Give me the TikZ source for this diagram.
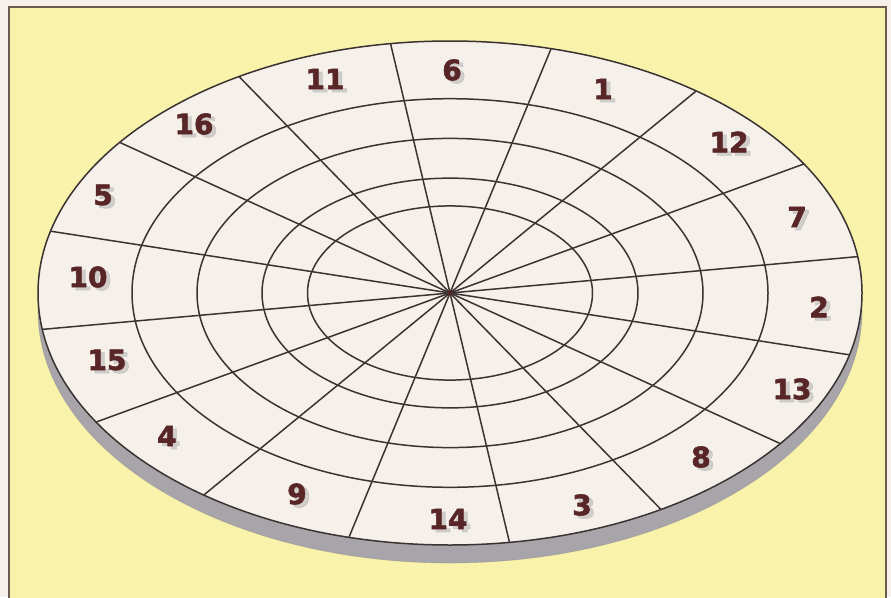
\documentclass[tikz,border=0pt]{standalone}
\usepackage{fontspec}
\newfontfamily\labelfont{DejaVu Sans Bold}[FakeBold=2]
\definecolor{outerbg}{HTML}{F7F0EA}
\definecolor{yellowbg}{HTML}{F9F2AA}
\definecolor{framecol}{HTML}{6A5A50}
\definecolor{facecol}{HTML}{F6F0EA}
\definecolor{shadowcol}{HTML}{A8A5AA}
\definecolor{linecol}{HTML}{3A3332}
\definecolor{numcol}{HTML}{582626}
\tikzset{
  gridline/.style={draw=linecol, line width=1.5pt},
  numlab/.style={text=numcol, font=\labelfont\fontsize{28}{28}\selectfont, inner sep=0pt},
  numshadow/.style={text=gray!60, opacity=0.55, font=\labelfont\fontsize{28}{28}\selectfont, inner sep=0pt},
}
\newcommand{\putnum}[3]{%
  \node[numshadow] (s#3) at (#1+4,#2+3) {#3};
  \node[numlab] (n#3) at (#1,#2) {#3};}
\begin{document}
\begin{tikzpicture}[x=1pt,y=-1pt]
\useasboundingbox (0,0) rectangle (891,597);
\fill[outerbg] (0,0) rectangle (891,597);
\fill[yellowbg] (9,7) rectangle (886,620);
\draw[framecol, line width=1.2pt] (9,620) -- (9,7) -- (886,7) -- (886,620);
% disk side (shadow)
\fill[shadowcol] (450,311) ellipse [x radius=412, y radius=252];
\draw[shadowcol!80!black, line width=0.6pt, opacity=0.4] (450,311) ellipse [x radius=412, y radius=252];
% disk face
\fill[facecol] (450,293) ellipse [x radius=412, y radius=252];
\coordinate (c) at (450,293);
% rings
\foreach \a in {318,253,188,142.5} {
  \draw[gridline] (c) ellipse [x radius=\a, y radius={0.611*\a}];
}
% radial lines
\foreach \k in {0,...,15} {
  \pgfmathsetmacro{\t}{8.3+22.5*\k}
  \coordinate (e\k) at ({450+412*cos(\t)},{293-252*sin(\t)});
  \draw[gridline] (c) -- (e\k);
}
\draw[gridline] (c) ellipse [x radius=412, y radius=252];
\fill[numcol] (c) circle (2.4pt);
% labels
\putnum{325}{79}{11}
\putnum{452}{70}{6}
\putnum{603}{89}{1}
\putnum{729}{142}{12}
\putnum{797}{217}{7}
\putnum{819}{307}{2}
\putnum{792}{389}{13}
\putnum{701}{457}{8}
\putnum{582}{505}{3}
\putnum{448}{519}{14}
\putnum{297}{494}{9}
\putnum{167}{436}{4}
\putnum{107}{360}{15}
\putnum{88}{277}{10}
\putnum{103}{195}{5}
\putnum{194}{124}{16}
\end{tikzpicture}
\end{document}
